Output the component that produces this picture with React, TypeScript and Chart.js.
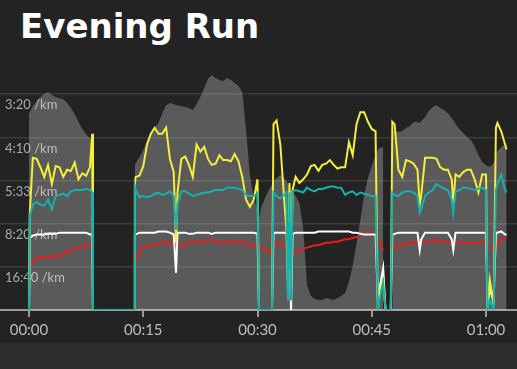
import React, { useEffect, useRef } from 'react';
import { Chart, registerables } from 'chart.js';

Chart.register(...registerables);

// elapsed time in minutes
const minutes = [
  0, 0.1, 0.5, 1, 1.5, 2, 2.5, 3, 3.5, 4, 4.5, 5, 5.5, 6, 6.5, 7, 7.5, 8, 8.3,
  8.4, 13.8,
  13.9, 14, 14.5, 15, 15.5, 16, 16.5, 17, 17.5, 18, 18.5, 19,
  19.3,
  19.5, 20, 20.5, 21, 21.5, 22, 22.5, 23, 23.5, 24, 24.5, 25, 25.5, 26, 26.5, 27, 27.5, 28, 28.5, 29, 29.5, 30,
  30.2, 30.5, 31, 31.5, 31.9,
  32.1, 32.5, 33, 33.5, 33.8, 34, 34.2, 34.4, 34.6,
  35, 35.5, 36, 36.5, 37, 37.5, 38, 38.5, 39, 39.5, 40, 40.5, 41, 41.5, 42, 42.5, 43, 43.5, 44, 44.5, 45, 45.5,
  45.8, 46, 46.5, 46.8, 47.5, 47.7,
  48, 48.5, 49, 49.5, 50, 50.5, 51,
  51.3, 51.5,
  52, 52.5, 53, 53.5, 54, 54.5, 55, 55.5,
  55.7,
  56, 56.5, 57, 57.5, 58, 58.5, 59, 59.5, 60,
  60.2, 60.5, 61, 61.3, 61.5, 62, 62.5, 62.7,
];

// elevation (relative, m)
const elevation = [
  76.0, 76.4, 78.7, 80.7, 82.2, 83.4, 84.1, 83.0, 82.2, 81.8, 81.4, 79.9, 78.0, 75.7, 72.6, 69.9, 67.9, 66.4, 65.6,
  null, null,
  56.0, 56.7, 59.1, 61.8, 65.6, 68.7, 70.6, 72.2, 76.0, 79.1, 79.9, 79.5,
  79.1,
  79.1, 78.7, 78.4, 78.0, 77.2, 79.5, 82.2, 85.7, 89.2, 90.7, 89.6, 88.8, 88.4, 89.6, 88.8, 87.6, 86.5, 84.1, 69.5, 52.1, 43.2, 38.6,
  35.5, 39.8, 43.2, 46.3, 48.6,
  49.8, 51.0, 52.1, 51.0, 49.8, 48.6, 47.5, 46.3, 45.5,
  44.0, 41.3, 31.7, 9.7, 5.4, 4.2, 3.9, 3.9, 4.6, 4.2, 3.9, 4.6, 5.4, 6.6, 10.8, 17.0, 25.9, 34.7, 44.4, 51.0, 55.6, 59.8,
  61.8, 62.5, 62.9, null, null, 69.1,
  69.1, 68.7, 69.1, 70.3, 71.0, 72.6, 72.6,
  72.2, 73.0,
  74.5, 76.8, 78.4, 79.1, 78.0, 77.2, 76.0, 74.1,
  73.3,
  71.8, 69.9, 68.3, 66.8, 65.6, 63.3, 59.8, 57.1, 56.0,
  55.6, 55.2, 56.7, 59.4, 61.4, 62.9, 64.1, 64.5,
];

// speeds in km/h
const yellowSpeed = [
  0, 8.0, 12.7, 12.6, 11.9, 11.1, 12.1, 10.5, 12.0, 11.9, 11.1, 11.7, 11.6, 12.3, 10.9, 11.4, 11.2, 11.9, 14.7,
  0, 0,
  10.5, 11.1, 11.2, 12.0, 13.8, 14.7, 15.2, 14.7, 14.7, 15.2, 12.6, 11.5,
  5.6,
  9.8, 12.6, 12.8, 12.1, 11.1, 13.8, 13.2, 13.6, 12.6, 12.1, 12.2, 12.9, 12.5, 12.5, 12.4, 13.0, 12.4, 11.1, 9.2, 8.6, 9.2, 10.9,
  0, 0, 0, 0, 0,
  15.5, 15.8, 13.8, 9.2, 6.7, 1.4, 10.6, 1.7, 10.0,
  11.1, 10.6, 10.9, 11.3, 12.0, 12.1, 11.6, 12.1, 12.2, 12.5, 12.1, 11.8, 11.9, 11.9, 14.0, 12.9, 15.5, 16.5, 16.5, 15.7, 15.1, 14.9,
  0, 1.7, 2.5, 0, 0, 15.7,
  15.5, 11.7, 11.1, 12.5, 12.4, 12.2, 11.7,
  8.8, 9.6,
  12.7, 12.7, 12.7, 12.6, 11.9, 11.7, 11.7, 10.9,
  8.8,
  11.3, 11.1, 11.5, 11.7, 11.7, 10.9, 9.8, 11.3, 11.3,
  0, 2.5, 0.4, 15.2, 15.6, 14.9, 13.8, 13.4,
];

const tealSpeed = [
  0, 7.8, 8.8, 9.0, 8.8, 8.7, 9.2, 8.4, 9.5, 9.6, 9.7, 9.5, 9.9, 10.0, 10.0, 10.0, 10.1, 10.0, 9.8,
  0, 0,
  10.3, 10.0, 9.4, 9.5, 9.4, 9.5, 9.7, 9.8, 9.6, 9.7, 9.9, 9.5,
  6.7,
  8.8, 9.9, 9.9, 9.7, 9.5, 9.6, 9.7, 9.8, 9.8, 9.9, 10.0, 10.0, 10.0, 10.2, 10.2, 10.2, 10.1, 10.0, 9.6, 9.5, 9.5, 9.7,
  0, 0, 0, 0, 0,
  9.8, 9.5, 9.3, 9.6, 9.8, 0.8, 9.8, 0.8, 9.9,
  10.0, 9.9, 9.8, 10.2, 10.0, 9.9, 10.1, 10.1, 10.2, 10.3, 10.3, 10.2, 10.2, 9.6, 9.8, 9.9, 9.6, 9.8, 9.7, 9.6, 9.5, 9.5,
  0, 0.8, 2.3, 0, 0, 9.8,
  9.6, 9.5, 9.8, 9.9, 9.9, 9.8, 9.5,
  8.1, 8.4,
  9.5, 9.8, 10.0, 10.5, 10.3, 10.1, 10.0, 9.2,
  8.1,
  9.9, 10.0, 10.2, 10.2, 10.1, 10.0, 10.1, 10.2, 10.0,
  0, 0.8, 0, 10.0, 10.5, 11.3, 10.0, 9.8,
];

const whiteSpeed = [
  0, 6.0, 6.2, 6.3, 6.3, 6.3, 6.35, 6.35, 6.35, 6.45, 6.45, 6.45, 6.45, 6.45, 6.45, 6.45, 6.45, 6.3, 6.3,
  0, 0,
  6.2, 6.3, 6.45, 6.45, 6.45, 6.45, 6.45, 6.55, 6.55, 6.55, 6.45, 6.3,
  3.1,
  6.45, 6.45, 6.45, 6.35, 6.35, 6.45, 6.45, 6.45, 6.45, 6.35, 6.45, 6.45, 6.45, 6.45, 6.45, 6.45, 6.45, 6.45, 6.45, 6.45, 6.45, 6.35,
  0, 0, 0, 0, 0,
  6.45, 6.45, 6.45, 6.45, 6.45, 6.35, 6.35, 0, 6.35,
  6.45, 6.45, 6.45, 6.45, 6.45, 6.45, 6.55, 6.55, 6.55, 6.55, 6.55, 6.55, 6.55, 6.55, 6.55, 6.45, 6.45, 6.35, 6.3, 6.3, 6.3, 6.3,
  0.8, 1.7, 3.5, 0, 0, 6.3,
  6.35, 6.45, 6.45, 6.45, 6.45, 6.45, 6.45,
  5.0, 5.9,
  6.45, 6.45, 6.45, 6.45, 6.45, 6.45, 6.45, 5.9,
  5.0,
  6.45, 6.45, 6.45, 6.45, 6.45, 6.45, 6.45, 6.45, 6.45,
  0.4, 1.7, 0.8, 6.45, 6.45, 6.55, 6.3, 6.3,
];

const redSpeed = [
  null, 3.6, 4.0, 4.4, 4.4, 4.4, 4.4, 4.5, 4.5, 4.5, 4.6, 4.9, 5.0, 5.1, 5.2, 5.3, 5.4, 5.4, 5.5,
  null, null,
  3.9, 4.1, 4.9, 5.2, 5.3, 5.4, 5.4, 5.5, 5.6, 5.7, 5.6, 5.4,
  5.2,
  5.2, 5.4, 5.5, 5.6, 5.7, 5.7, 5.6, 5.7, 5.9, 5.8, 5.7, 5.6, 5.6, 5.7, 5.7, 5.7, 5.7, 5.7, 5.5, 5.4, 5.4, 5.3,
  5.2, 5.2, 5.0, 4.9, 4.6,
  5.2, 5.6, 5.6, 5.3, 5.1, 5.0, 4.9, 4.9, 4.9,
  4.8, 4.9, 5.1, 5.2, 5.3, 5.4, 5.4, 5.5, 5.6, 5.6, 5.7, 5.7, 5.8, 5.9, 5.9, 6.0, 6.1, 6.2, 6.4, 6.4, 6.4, 6.3,
  6.0, 5.7, 5.0, null, null, 5.0,
  5.3, 5.4, 5.4, 5.5, 5.6, 5.6, 5.7,
  5.6, 5.6,
  5.6, 5.7, 5.7, 5.9, 5.7, 5.7, 5.7, 5.6,
  5.6,
  5.6, 5.6, 5.6, 5.6, 5.6, 5.6, 5.6, 5.6, 5.6,
  5.5, 5.4, 5.0, 5.3, 5.5, 5.9, 6.0, 6.0,
];

const paceTickSpeeds = [3.6, 7.2, 10.8, 14.4, 18];
const paceTickLabels = ['16:40 /km', '8:20 /km', '5:33 /km', '4:10 /km', '3:20 /km'];
const timeTickValues = [0, 15, 30, 45, 60];
const timeTickLabels = ['00:00', '00:15', '00:30', '00:45', '01:00'];

const X_MIN = -3.807;
const X_MAX = 64.068;

export default function App() {
  const ref = useRef<HTMLCanvasElement>(null);

  useEffect(() => {
    document.body.style.margin = '0';
    const pts = (vals: (number | null)[]) =>
      minutes.map((m, i) => ({ x: m, y: vals[i] === undefined ? null : vals[i] }));
    const line = (label: string, vals: (number | null)[], color: string, order: number) => ({
      label,
      data: pts(vals),
      borderColor: color,
      borderWidth: 2,
      pointRadius: 0,
      fill: false,
      tension: 0,
      order,
      yAxisID: 'y',
    });
    const chart = new Chart(ref.current as HTMLCanvasElement, {
      type: 'line',
      data: {
        datasets: [
          line('Teal', tealSpeed, '#14b1ad', 1),
          line('Yellow', yellowSpeed, '#f4ee3c', 2),
          line('White', whiteSpeed, '#ffffff', 3),
          line('Red', redSpeed, '#ec1a1d', 4),
          {
            label: 'Elevation',
            data: pts(elevation),
            yAxisID: 'elev',
            fill: 'origin',
            backgroundColor: 'rgba(255,255,255,0.25)',
            borderWidth: 0,
            pointRadius: 0,
            tension: 0,
            order: 10,
          },
        ],
      } as any,
      options: {
        animation: false,
        responsive: false,
        devicePixelRatio: 1,
        layout: { padding: { top: 51, left: 0, right: 0, bottom: 0 } },
        plugins: {
          legend: { display: false },
          tooltip: { enabled: false },
          title: { display: false },
        },
        scales: {
          x: {
            type: 'linear',
            min: X_MIN,
            max: X_MAX,
            afterBuildTicks: (s: any) => {
              s.ticks = timeTickValues.map((v) => ({ value: v }));
            },
            grid: { drawOnChartArea: false, drawTicks: true, tickLength: 7, color: '#9a9a9a', lineWidth: 2 },
            border: { display: true, color: '#9a9a9a', width: 2 },
            ticks: {
              padding: 4,
              color: '#bdbdbd',
              font: { family: 'Lato', size: 15 },
              maxRotation: 0,
              autoSkip: false,
              callback: (v: any) => {
                const i = timeTickValues.indexOf(Number(v));
                return i >= 0 ? timeTickLabels[i] : '';
              },
            },
          },
          y: {
            type: 'linear',
            position: 'left',
            min: 0,
            max: 21.6,
            afterBuildTicks: (s: any) => {
              s.ticks = paceTickSpeeds.map((v) => ({ value: v }));
            },
            afterFit: (s: any) => {
              s.width = 0;
            },
            grid: { color: 'rgba(255,255,255,0.11)', lineWidth: 1.5, drawTicks: false },
            border: { display: false },
            ticks: {
              mirror: true,
              padding: 5,
              labelOffset: 11,
              color: '#aaaaaa',
              font: { family: 'Lato', size: 13 },
              callback: (_v: any, i: number) => paceTickLabels[i],
            },
          },
          elev: { type: 'linear', display: false, min: 0, max: 100 },
        },
      } as any,
    });
    return () => chart.destroy();
  }, []);

  return (
    <div
      style={{
        position: 'fixed',
        left: 0,
        top: 0,
        width: 517,
        height: 369,
        background: '#232323',
        overflow: 'hidden',
      }}
    >
      <div style={{ position: 'absolute', left: 0, top: 343, width: 517, height: 26, background: '#2e2e2e' }} />
      <div
        style={{
          position: 'absolute',
          left: 20,
          top: 9,
          font: '700 34px "DejaVu Sans"',
          lineHeight: 1,
          color: '#ffffff',
          whiteSpace: 'nowrap',
        }}
      >
        Evening Run
      </div>
      <canvas
        ref={ref}
        width={517}
        height={343}
        style={{ position: 'absolute', left: 0, top: 0, width: 517, height: 343 }}
      />
    </div>
  );
}
